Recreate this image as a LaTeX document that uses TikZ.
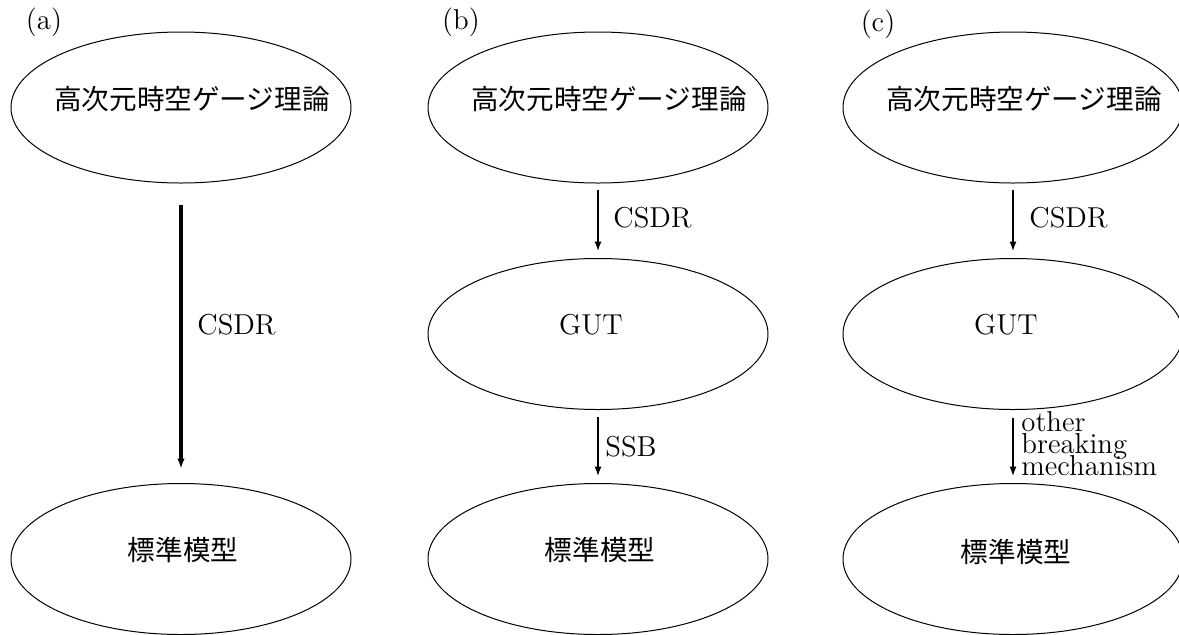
\documentclass[tikz,border=0pt]{standalone}
\usepackage{fontspec}
\newfontfamily\jpfont{Noto Sans CJK JP}
\newcommand\mytightlines{\lineskiplimit=-20pt\relax\lineskip=0pt\relax}
\usetikzlibrary{arrows.meta,shapes.geometric}
\begin{document}
\begin{tikzpicture}[x=0.5pt,y=-0.5pt,
  ell/.style={draw, line width=0.5pt, ellipse, minimum width=170pt, minimum height=75.5pt, inner sep=0pt, outer sep=0pt},
  jptext/.style={font=\jpfont\fontsize{13.8}{16}\selectfont, inner sep=0pt},
  lbl/.style={font=\fontsize{14.4}{17}\selectfont, inner sep=0pt},
  arr/.style={line width=1pt, -{Latex[length=5pt,width=3.6pt]}},
  thickarr/.style={line width=1.6pt, -{Latex[length=5pt,width=3.8pt]}},
  multi/.style={font=\fontsize{14.4}{10.8}\selectfont\mytightlines, align=left, inner sep=0pt}]
\useasboundingbox (0,0) rectangle (1179,634);
% column (a)
\node[lbl] (la) at (44,22) {(a)};
\node[ell] (a1) at (181,107.5) {};
\node[ell] (a2) at (181,559) {};
\node[jptext] (ta1) at (192,99) {高次元時空ゲージ理論};
\node[jptext] (ta2) at (183,550) {標準模型};
\draw[thickarr, shorten <=11pt, shorten >=7.5pt] (a1.south) -- (a2.north);
\node[lbl, anchor=west] (ca) at (197,325) {CSDR};
% column (b)
\node[lbl] (lb) at (461,22) {(b)};
\node[ell] (b1) at (598,107.5) {};
\node[ell] (b2) at (598,334) {};
\node[ell] (b3) at (598,559) {};
\node[jptext] (tb1) at (609,99) {高次元時空ゲージ理論};
\node[lbl] (tb2) at (591,325) {GUT};
\node[jptext] (tb3) at (600,550) {標準模型};
\draw[arr, shorten <=3.5pt, shorten >=3.5pt] (b1.south) -- (b2.north);
\draw[arr, shorten <=3.5pt, shorten >=3.5pt] (b2.south) -- (b3.north);
\node[lbl, anchor=west] (cb) at (613,218) {CSDR};
\node[lbl, anchor=west] (sb) at (605,447) {SSB};
% column (c)
\node[lbl] (lc) at (878,24) {(c)};
\node[ell] (c1) at (1013,107.5) {};
\node[ell] (c2) at (1013,334) {};
\node[ell] (c3) at (1013,559) {};
\node[jptext] (tc1) at (1024,99) {高次元時空ゲージ理論};
\node[lbl] (tc2) at (1006,325) {GUT};
\node[jptext] (tc3) at (1016,552) {標準模型};
\draw[arr, shorten <=3.5pt, shorten >=3.5pt] (c1.south) -- (c2.north);
\draw[arr, shorten <=4pt, shorten >=3.5pt] (c2.south) -- (c3.north);
\node[lbl, anchor=west] (cc) at (1029,218) {CSDR};
\node[multi, anchor=base west] (oc) at (1021,475) {other\\breaking\\mechanism};
\end{tikzpicture}
\end{document}
